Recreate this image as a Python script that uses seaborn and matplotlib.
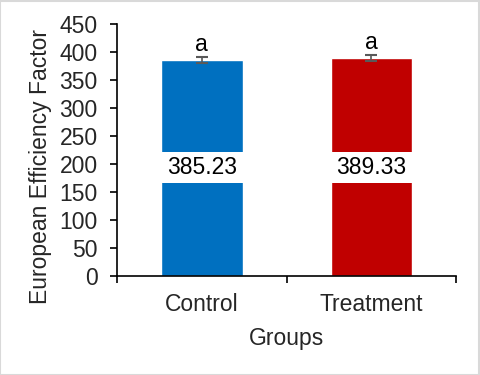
import matplotlib
matplotlib.use("Agg")
import matplotlib.pyplot as plt
import seaborn as sns
import pandas as pd
from matplotlib.patches import Rectangle

groups = ["Control", "Treatment"]
values = [385.23, 389.33]
errors = [5.0, 5.5]
letters = ["a", "a"]
colors = ["#0070C0", "#C00000"]
yticks = [0, 50, 100, 150, 200, 250, 300, 350, 400, 450]

sns.set_theme(style="white")
plt.rcParams["font.family"] = ["Liberation Sans", "DejaVu Sans"]

FS = 16.5

df = pd.DataFrame({"Groups": groups, "Value": values})

fig = plt.figure(figsize=(4.8, 3.75), dpi=100)
ax = fig.add_axes([0.244, 0.264, 0.706, 0.672])

sns.barplot(data=df, x="Groups", y="Value", hue="Groups", palette=colors,
            dodge=False, legend=False, width=0.48, errorbar=None, ax=ax,
            saturation=1)

ax.errorbar(range(len(groups)), values, yerr=errors, fmt="none",
            ecolor="#595959", elinewidth=1.2, capsize=4, capthick=1.5)

for i, (p, v, e, l) in enumerate(zip(ax.patches, values, errors, letters)):
    x0 = p.get_x()
    w = p.get_width()
    ax.add_patch(Rectangle((x0, 166), w, 55, facecolor="white",
                           edgecolor="none", zorder=3))
    ax.text(x0 + w / 2, 193, f"{v:.2f}", ha="center", va="center",
            fontsize=FS, color="black", zorder=4)
    ax.text(i, v + e + 2, l, ha="center", va="bottom", fontsize=FS,
            color="black")

ax.set_ylim(0, 450)
ax.set_xlim(-0.5, 1.5)
ax.set_yticks(yticks)
ax.set_yticklabels([str(t) for t in yticks], fontsize=FS)
ax.set_xticks([-0.5, 0.5, 1.5])
ax.set_xticklabels([])
ax.set_xticks([0, 1], minor=True)
ax.set_xticklabels(groups, minor=True, fontsize=FS)
ax.tick_params(axis="x", which="major", direction="out", length=5,
               width=1.2, color="black", bottom=True)
ax.tick_params(axis="x", which="minor", length=0, pad=12)
ax.tick_params(axis="y", direction="out", length=5, width=1.2,
               color="black", left=True, pad=9)

ax.set_xlabel("Groups", fontsize=FS, labelpad=8)
ax.set_ylabel("European Efficiency Factor", fontsize=FS)
ax.yaxis.set_label_coords(-0.192, 0.433)

for s in ["top", "right"]:
    ax.spines[s].set_visible(False)
for s in ["left", "bottom"]:
    ax.spines[s].set_color("black")
    ax.spines[s].set_linewidth(1.2)

fig.patches.append(Rectangle((0.001, 0.001), 0.997, 0.996,
                             transform=fig.transFigure, fill=False,
                             edgecolor="#D9D9D9", linewidth=1.5))

fig.savefig("out.png", dpi=100, facecolor="white")
